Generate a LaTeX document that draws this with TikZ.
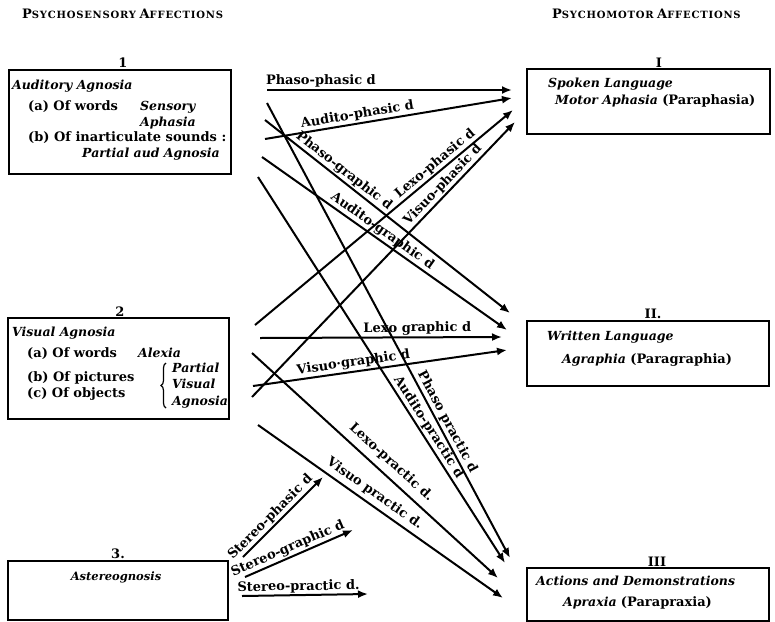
\documentclass[tikz,border=0pt]{standalone}
\usepackage{fontspec}
\setmainfont{DejaVu Serif}
\usetikzlibrary{positioning, arrows.meta, decorations.pathreplacing}

\newcommand{\capsword}[2]{{\fontsize{13}{13}\selectfont #1}{\fontsize{10}{10}\selectfont\addfontfeatures{LetterSpace=8}#2}}

\begin{document}
\begin{tikzpicture}[x=1pt, y=-1pt,
        box/.style={draw, line width=1.8pt, anchor=north west, inner sep=0pt},
        ttl/.style={anchor=base west, inner sep=0pt,
                    font=\fontsize{12.5}{12.5}\selectfont\bfseries\itshape},
        item/.style={anchor=base west, inner sep=0pt,
                     font=\fontsize{13}{13}\selectfont\bfseries},
        num/.style={anchor=base, inner sep=0pt,
                    font=\fontsize{13}{13}\selectfont\bfseries},
        head/.style={anchor=base west, inner sep=0pt, font=\bfseries},
        lbl/.style={font=\fontsize{13}{13}\selectfont\bfseries,
                    sloped, above, inner sep=1.5pt},
        arr/.style={-{Latex[length=10pt,width=8pt]}, line width=2pt}]
    \useasboundingbox (0,0) rectangle (775,621);

    % headings
    \node[head] (hsens) at (22,18) {\capsword{P}{SYCHOSENSORY}\ \capsword{A}{FFECTIONS}};
    \node[head] (hmot) at (552,18) {\capsword{P}{SYCHOMOTOR}\ \capsword{A}{FFECTIONS}};

    % left boxes
    \node[box, minimum width=222pt, minimum height=104pt] (aud) at (8,69) {};
    \node[num] (n1) at (123,67) {1};
    \node[ttl] (audt) at (12,89) {Auditory Agnosia};
    \node[item] (auda) at (28,110) {(a) Of words};
    \node[ttl] (audas) at (140,110) {Sensory};
    \node[ttl] (audaa) at (140,126) {Aphasia};
    \node[item] (audb) at (28,141) {(b) Of inarticulate sounds :};
    \node[ttl] (audbp) at (82,157) {Partial aud Agnosia};

    \node[box, minimum width=221pt, minimum height=101pt] (vis) at (7,317) {};
    \node[num] (n2) at (120,316) {2};
    \node[ttl] (vist) at (12,336) {Visual Agnosia};
    \node[item] (visa) at (27,357) {(a) Of words};
    \node[ttl] (visaa) at (138,357) {Alexia};
    \node[item] (visb) at (27,381) {(b) Of pictures};
    \node[item] (visc) at (27,397) {(c) Of objects};
    \draw[decorate, decoration={brace, amplitude=5pt}, line width=1.2pt]
        (166,408) -- (166,363);
    \node[ttl] (visp1) at (172,372) {Partial};
    \node[ttl] (visp2) at (172,388) {Visual};
    \node[ttl] (visp3) at (172,405) {Agnosia};

    \node[box, minimum width=220pt, minimum height=59pt] (ster) at (7,560) {};
    \node[num] (n3) at (118,558) {3.};
    \node[ttl, anchor=base, font=\fontsize{11.5}{11.5}\selectfont\bfseries\itshape]
        (stert) at (116,580) {Astereognosis};

    % right boxes
    \node[box, minimum width=243pt, minimum height=65pt] (spk) at (526,68) {};
    \node[num] (nI) at (659,67) {I};
    \node[ttl] (spk1) at (548,87) {Spoken Language};
    \node[ttl] (spk2) at (555,104) {Motor Aphasia
        \textup{\fontsize{13}{13}\selectfont (Paraphasia)}};

    \node[box, minimum width=242pt, minimum height=65pt] (wri) at (526,320) {};
    \node[num] (nII) at (653,318) {II.};
    \node[ttl] (wri1) at (547,340) {Written Language};
    \node[ttl] (wri2) at (562,363) {Agraphia
        \textup{\fontsize{13}{13}\selectfont (Paragraphia)}};

    \node[box, minimum width=242pt, minimum height=53pt] (act) at (526,567) {};
    \node[num] (nIII) at (657,566) {III};
    \node[ttl] (act1) at (536,585) {Actions and Demonstrations};
    \node[ttl] (act2) at (563,606) {Apraxia
        \textup{\fontsize{13}{13}\selectfont (Parapraxia)}};

    % arrow ends
    \coordinate (pa1) at (267,90);  \coordinate (pb1) at (512,90);
    \coordinate (pa2) at (265,139); \coordinate (pb2) at (512,98);
    \coordinate (pa3) at (265,120); \coordinate (pb3) at (510,313);
    \coordinate (pa4) at (262,157); \coordinate (pb4) at (507,330);
    \coordinate (pa5) at (267,103); \coordinate (pb5) at (510,558);
    \coordinate (pa6) at (258,177); \coordinate (pb6) at (505,563);
    \coordinate (qa1) at (255,325); \coordinate (qb1) at (513,110);
    \coordinate (qa2) at (252,397); \coordinate (qb2) at (515,122);
    \coordinate (qa3) at (260,338); \coordinate (qb3) at (502,337);
    \coordinate (qa4) at (253,386); \coordinate (qb4) at (507,350);
    \coordinate (qa5) at (252,353); \coordinate (qb5) at (498,578);
    \coordinate (qa6) at (258,425); \coordinate (qb6) at (503,598);
    \coordinate (ra1) at (243,557); \coordinate (rb1) at (323,477);
    \coordinate (ra2) at (245,577); \coordinate (rb2) at (353,530);
    \coordinate (ra3) at (242,596); \coordinate (rb3) at (368,594);

    % auditory
    \draw[arr] (pa1) -- (pb1) node[lbl, pos=.22] {Phaso-phasic d};
    \draw[arr] (pa2) -- (pb2) node[lbl, pos=.38] {Audito-phasic d};
    \draw[arr] (pa3) -- (pb3) node[lbl, pos=.30] {Phaso-graphic d};
    \draw[arr] (pa4) -- (pb4) node[lbl, pos=.47] {Audito-graphic d};
    \draw[arr] (pa5) -- (pb5) node[lbl, pos=.71] {Phaso practic d};
    \draw[arr] (pa6) -- (pb6) node[lbl, pos=.66] {Audito-practic d};
    % visual
    \draw[arr] (qa1) -- (qb1) node[lbl, pos=.72] {Lexo-phasic d};
    \draw[arr] (qa2) -- (qb2) node[lbl, pos=.75] {Visuo-phasic d};
    \draw[arr] (qa3) -- (qb3) node[lbl, pos=.65] {Lexo graphic d};
    \draw[arr] (qa4) -- (qb4) node[lbl, pos=.4] {Visuo·graphic d};
    \draw[arr] (qa5) -- (qb5) node[lbl, pos=.53, inner sep=6pt] {Lexo-practic d.};
    \draw[arr] (qa6) -- (qb6) node[lbl, pos=.45, inner sep=4pt] {Visuo practic d.};
    % stereognostic
    \draw[arr] (ra1) -- (rb1) node[lbl, pos=.42] {Stereo-phasic d};
    \draw[arr] (ra2) -- (rb2) node[lbl, pos=.43] {Stereo-graphic d};
    \draw[arr] (ra3) -- (rb3) node[lbl, pos=.45, inner sep=1pt] {Stereo-practic d.};
\end{tikzpicture}
\end{document}
